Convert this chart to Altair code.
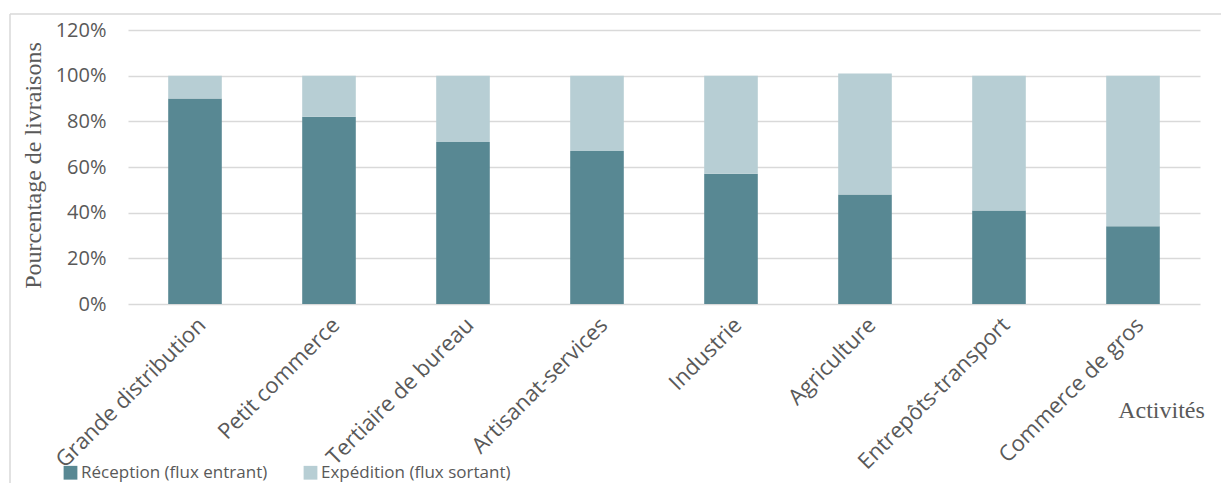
import altair as alt
import pandas as pd

categories = ["Grande distribution", "Petit commerce", "Tertiaire de bureau", "Artisanat-services",
              "Industrie", "Agriculture", "Entrepôts-transport", "Commerce de gros"]
reception = [0.90, 0.82, 0.71, 0.67, 0.57, 0.48, 0.41, 0.34]
expedition = [0.10, 0.18, 0.29, 0.33, 0.43, 0.53, 0.59, 0.66]
series = ["Réception (flux entrant)", "Expédition (flux sortant)"]
colors = ["#588893", "#B7CED4"]

rows = []
for c, r, e in zip(categories, reception, expedition):
    rows.append({"cat": c, "serie": series[0], "val": r, "ord": 0})
    rows.append({"cat": c, "serie": series[1], "val": e, "ord": 1})
df = pd.DataFrame(rows)

LBL = "#595959"

bars = alt.Chart(df).mark_bar().encode(
    x=alt.X("cat:N", sort=categories,
            scale=alt.Scale(paddingInner=0.6, paddingOuter=0.3),
            axis=alt.Axis(title="Activités", labelAngle=-45, labelFontSize=22,
                          labelFont="Open Sans", labelColor=LBL, labelPadding=10,
                          ticks=False, domain=False, labelLimit=400,
                          titleFont="Liberation Serif", titleFontSize=24,
                          titleFontWeight="normal", titleColor=LBL,
                          titleX=1033, titleY=94, titleAlign="center")),
    y=alt.Y("val:Q", stack="zero",
            scale=alt.Scale(domain=[0, 1.2], nice=False),
            axis=alt.Axis(title="Pourcentage de livraisons", format=".0%",
                          values=[0, 0.2, 0.4, 0.6, 0.8, 1.0, 1.2],
                          labelFontSize=20, labelFont="Open Sans", labelColor=LBL,
                          labelPadding=22, ticks=False, domain=False,
                          gridColor="#D9D9D9", gridWidth=1.5,
                          titleFont="Liberation Serif", titleFontSize=24,
                          titleFontWeight="normal", titleColor=LBL,
                          titleX=-95, titleY=135, titleAlign="center",
                          titleBaseline="middle", titleAngle=-90)),
    color=alt.Color("serie:N", sort=series,
                    scale=alt.Scale(domain=series, range=colors),
                    legend=alt.Legend(title=None, orient="none", direction="horizontal",
                                      legendX=-66, legendY=434, symbolType="square",
                                      symbolSize=190, symbolStrokeWidth=0,
                                      labelFontSize=17, labelFont="Open Sans",
                                      labelColor=LBL, columnPadding=34, symbolOffset=0,
                                      labelOffset=2, labelLimit=0)),
    order=alt.Order("ord:Q"),
)

frame_df = alt.Data(values=[{"k": 1}])
top_line = alt.Chart(frame_df).mark_rule(color="#D9D9D9", strokeWidth=1.5, clip=False).encode(
    x=alt.value(-118), x2=alt.value(1093), y=alt.value(-16))
left_line = alt.Chart(frame_df).mark_rule(color="#D9D9D9", strokeWidth=1.5, clip=False).encode(
    x=alt.value(-118), y=alt.value(-16), y2=alt.value(460))

chart = alt.layer(bars, top_line, left_line).properties(
    width=1072, height=274,
    autosize=alt.AutoSizeParams(type="none"),
    padding={"left": 128, "top": 30, "right": 21, "bottom": 179},
).configure_view(stroke=None)

chart.save("out.html", embed_options={"renderer": "svg", "actions": False})
